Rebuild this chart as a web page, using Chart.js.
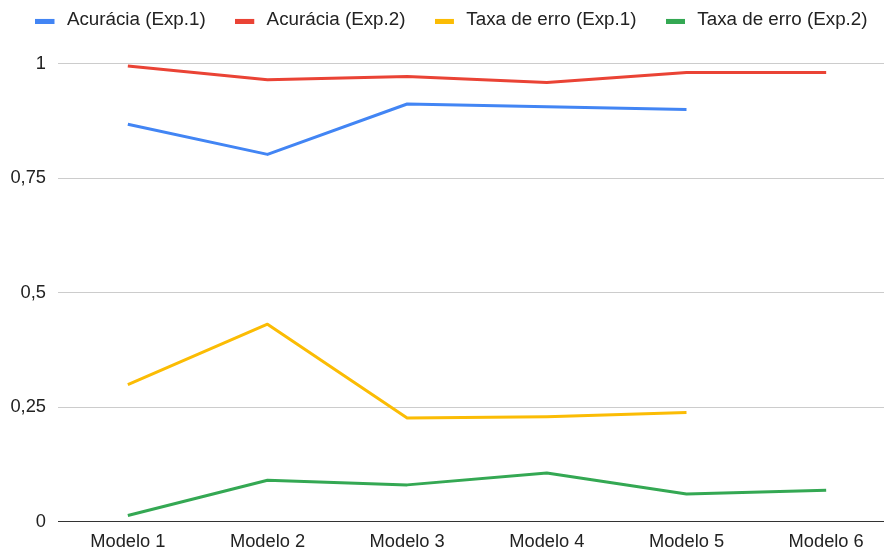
<!DOCTYPE html>
<html>
<head>
<meta charset="utf-8">
<script src="https://cdn.jsdelivr.net/npm/chart.js@4"></script>
<style>
html,body{margin:0;padding:0;background:#fff;overflow:hidden}
#wrap{width:884px;height:553px;overflow:hidden;position:relative;background:#fff}
canvas{display:block}
</style>
</head>
<body>
<div id="wrap"><canvas id="c" width="896" height="553"></canvas></div>
<script>
const categories = ['Modelo 1', 'Modelo 2', 'Modelo 3', 'Modelo 4', 'Modelo 5', 'Modelo 6'];
const acuraciaExp1 = [0.868, 0.802, 0.912, 0.906, 0.900, null];
const acuraciaExp2 = [0.995, 0.965, 0.972, 0.959, 0.981, 0.981];
const taxaErroExp1 = [0.299, 0.431, 0.226, 0.229, 0.238, null];
const taxaErroExp2 = [0.013, 0.090, 0.080, 0.106, 0.060, 0.068];
const seriesNames = ['Acurácia (Exp.1)', 'Acurácia (Exp.2)', 'Taxa de erro (Exp.1)', 'Taxa de erro (Exp.2)'];
const seriesColors = ['#4285F4', '#EA4335', '#FBBC04', '#34A853'];
const yTicks = [0, 0.25, 0.5, 0.75, 1];

const FONT = "'Liberation Sans', Arial, sans-serif";

// legend swatch: coloured bar on the left part of a slightly wider canvas
function swatch(color) {
  const c = document.createElement('canvas');
  c.width = 22; c.height = 8;
  const g = c.getContext('2d');
  g.fillStyle = color;
  g.fillRect(0, 3, 19, 5);
  return c;
}

const legendFitTweak = {
  id: 'legendFitTweak',
  beforeLayout(chart) {
    const lg = chart.legend;
    if (lg && !lg.__tweaked) {
      const orig = lg.fit;
      lg.fit = function () {
        const mw = this.maxWidth;
        this.maxWidth = mw + 80;
        orig.call(this);
        this.maxWidth = mw;
        this.width = mw;
        this.height = 82.75;
      };
      lg.__tweaked = true;
    }
  },
  afterLayout(chart) {
    const lg = chart.legend;
    if (lg) { lg.left -= 40; lg.right += 40; lg.width = lg.right - lg.left; }
  }
};

const seriesData = [acuraciaExp1, acuraciaExp2, taxaErroExp1, taxaErroExp2];
const datasets = seriesData.map((d, i) => ({
  label: seriesNames[i],
  data: d,
  borderColor: seriesColors[i],
  backgroundColor: seriesColors[i],
  borderWidth: 3,
  pointRadius: 0,
  pointHoverRadius: 0,
  tension: 0,
  fill: false,
  borderJoinStyle: 'round',
  borderCapStyle: 'butt'
}));

new Chart(document.getElementById('c'), {
  type: 'line',
  data: { labels: categories, datasets },
  plugins: [legendFitTweak],
  options: {
    responsive: false,
    animation: false,
    devicePixelRatio: 1,
    layout: { padding: { top: -19, left: 7, right: 0, bottom: 0 } },
    plugins: {
      tooltip: { enabled: false },
      legend: {
        position: 'top',
        align: 'center',
        labels: {
          usePointStyle: true,
          pointStyleWidth: 22,
          padding: 29.5,
          color: '#222222',
          font: { family: FONT, size: 18.8 },
          generateLabels(chart) {
            const items = Chart.defaults.plugins.legend.labels.generateLabels(chart);
            items.forEach((it, i) => { it.lineWidth = 0; it.pointStyle = swatch(seriesColors[i]); });
            return items;
          }
        }
      }
    },
    scales: {
      x: {
        type: 'category',
        offset: true,
        afterFit(scale) { scale.height = 31.5; },
        grid: { display: false, drawTicks: false },
        border: { display: false },
        ticks: {
          color: '#222222',
          font: { family: FONT, size: 18.3 },
          padding: 9.5,
          maxRotation: 0,
          autoSkip: false
        }
      },
      y: {
        min: 0,
        max: 1,
        afterBuildTicks(scale) { scale.ticks = yTicks.map(v => ({ value: v })); },
        afterFit(scale) { scale.width = 51; },
        border: { display: false },
        grid: {
          drawTicks: false,
          lineWidth: 1,
          color: ctx => (ctx.tick && ctx.tick.value === 0) ? '#333333' : '#cccccc'
        },
        ticks: {
          padding: 12,
          color: '#222222',
          font: { family: FONT, size: 18.3 },
          callback: v => String(v).replace('.', ',')
        }
      }
    }
  }
});
</script>
</body>
</html>
